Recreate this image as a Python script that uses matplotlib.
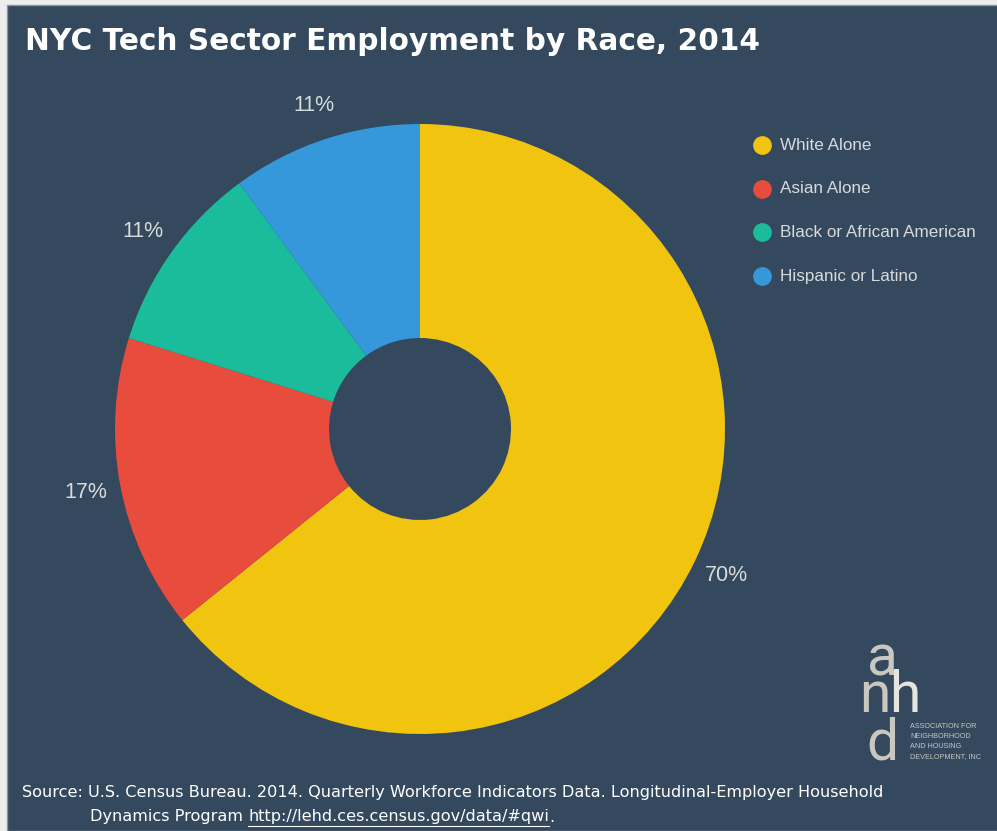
import numpy as np
import matplotlib
matplotlib.use("Agg")
import matplotlib.pyplot as plt
from matplotlib.patches import Rectangle
from matplotlib.lines import Line2D

W, H = 997, 831
BG = "#34495e"
TXT = "#d8dadc"

groups = ["White Alone", "Asian Alone", "Black or African American", "Hispanic or Latino"]
shares = [70, 17, 11, 11]
pct_labels = ["70%", "17%", "11%", "11%"]
colors = ["#f1c40f", "#e74c3c", "#1abc9c", "#3498db"]

title = "NYC Tech Sector Employment by Race, 2014"
source1 = "Source: U.S. Census Bureau. 2014. Quarterly Workforce Indicators Data. Longitudinal-Employer Household"
source2 = "Dynamics Program "
url = "http://lehd.ces.census.gov/data/#qwi"
org_lines = ["ASSOCIATION FOR", "NEIGHBORHOOD", "AND HOUSING", "DEVELOPMENT, INC"]


def fx(x):
    return x / W


def fy(y):
    return 1 - y / H


fig = plt.figure(figsize=(W / 100, H / 100), dpi=100, facecolor="#ededed")
fig.add_artist(Rectangle((fx(7), 0), 1, fy(5), transform=fig.transFigure,
                         facecolor=BG, edgecolor="#8c949c", lw=1, zorder=0))

# ---- donut ----
cx, cy, r = 420, 429, 305
ax = fig.add_axes([fx(cx - r), fy(cy + r), 2 * r / W, 2 * r / H])
ax.pie(shares, labels=pct_labels, colors=colors, startangle=90, counterclock=False,
       radius=1, labeldistance=1.115,
       wedgeprops=dict(width=1 - 91 / r, edgecolor="none"),
       textprops=dict(color=TXT, fontsize=15.5, family="Liberation Sans",
                      ha="center", va="center"))
ax.set_xlim(-1, 1)   # pie() resets limits to +-1.25
ax.set_ylim(-1, 1)
ax.axis("off")

# ---- legend ----
for i, (g, c) in enumerate(zip(groups, colors)):
    y = 145 + i * 43.7
    fig.add_artist(Line2D([fx(762)], [fy(y)], marker="o", ms=13.5, color=c,
                          mec="none", transform=fig.transFigure))
    fig.text(fx(780), fy(y), g, color=TXT, fontsize=12.3, family="Liberation Sans",
             ha="left", va="center")

# ---- title ----
fig.text(fx(25), fy(42), title, color="white", fontsize=21.3, weight="bold",
         family="DejaVu Sans", ha="left", va="center")

# ---- source ----
fs = 11.6
SF = "DejaVu Sans"
fig.text(fx(22), fy(793), source1, color="white", fontsize=fs, family=SF,
         ha="left", va="center")
t2 = fig.text(fx(90), fy(817), source2, color="white", fontsize=fs,
              family=SF, ha="left", va="center")
fig.canvas.draw()
rend = fig.canvas.get_renderer()
bb = t2.get_window_extent(rend)
tu = fig.text(bb.x1 / W, fy(817), url, color="white", fontsize=fs,
              family=SF, ha="left", va="center")
bu = tu.get_window_extent(rend)
fig.text(bu.x1 / W, fy(817), ".", color="white", fontsize=fs,
         family=SF, ha="left", va="center")
fig.add_artist(Line2D([bu.x0 / W, bu.x1 / W], [(bu.y0 - 1) / H] * 2, color="white",
                      lw=0.8, transform=fig.transFigure))

# ---- logo ----
LOGO = "#c9c7bf"
for ch, x, y in [("a", 882, 675), ("n", 875, 712), ("h", 905, 712), ("d", 882.5, 760)]:
    fig.text(fx(x), fy(y), ch, color=LOGO if ch != "h" else "#e6e4de", fontsize=41,
             family="Roboto", weight="normal", ha="center", va="baseline")
for i, line in enumerate(org_lines):
    fig.text(fx(910), fy(727 + i * 10), line, color=LOGO, fontsize=5.2,
             family="Liberation Sans", ha="left", va="center")

fig.savefig("out.png", dpi=100, facecolor=fig.get_facecolor())
